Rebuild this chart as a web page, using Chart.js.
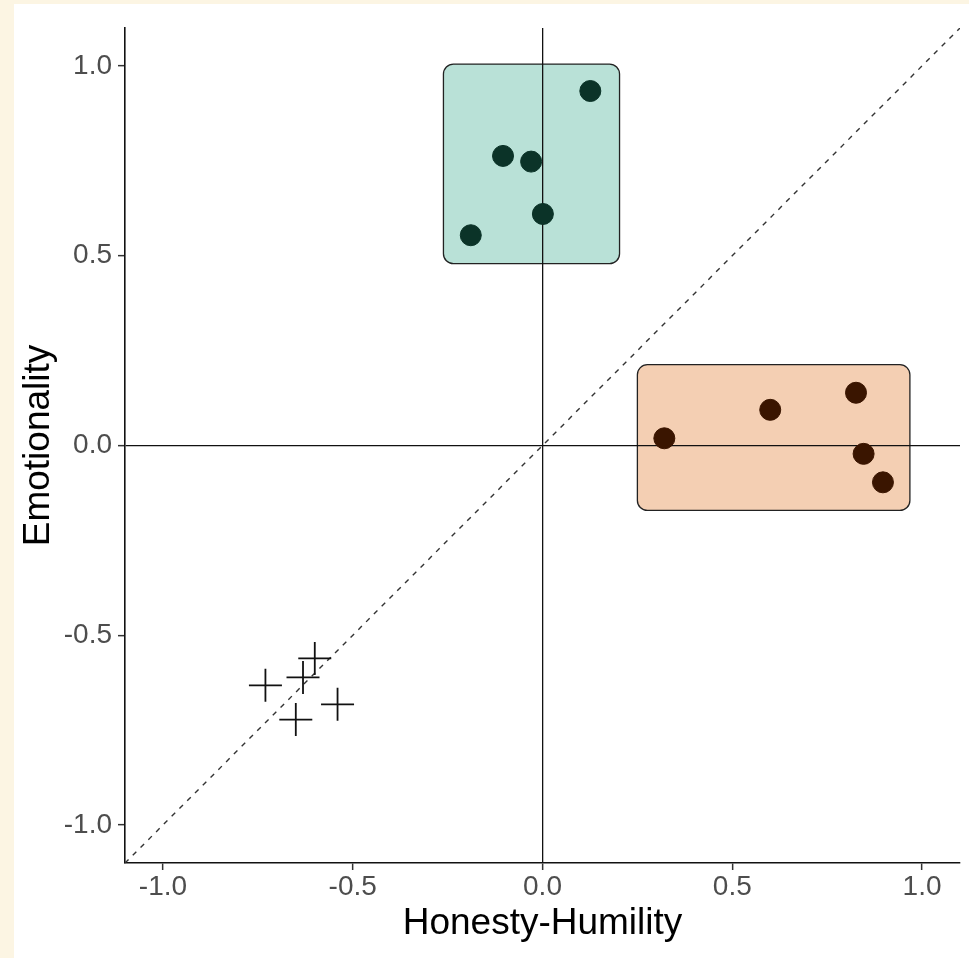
<!DOCTYPE html>
<html>
<head>
<meta charset="utf-8">
<script src="https://cdn.jsdelivr.net/npm/chart.js@4.4.1/dist/chart.umd.min.js"></script>
<style>
  body { margin: 0; background: #fcf5e3; }
  #wrap { position: absolute; left: 14px; top: 4px; width: 955px; height: 954px; background: #fff; }
</style>
</head>
<body>
<div id="wrap"><canvas id="myChart" width="955" height="954"></canvas></div>
<script>
// points
const tealX = [0.126, -0.104, -0.030, 0.001, -0.189];
const tealY = [0.934, 0.763, 0.748, 0.610, 0.554];
const orangeX = [0.321, 0.600, 0.826, 0.846, 0.897];
const orangeY = [0.019, 0.094, 0.139, -0.022, -0.097];
const crossX = [-0.730, -0.631, -0.600, -0.650, -0.540];
const crossY = [-0.632, -0.611, -0.561, -0.722, -0.682];

// highlight boxes [xmin, xmax, ymin, ymax]
const tealBox = [-0.261, 0.203, 0.479, 1.005];
const orangeBox = [0.250, 0.968, -0.171, 0.213];

const axisMin = -1.1;
const axisMax = 1.1;
const tickValues = [-1.0, -0.5, 0.0, 0.5, 1.0];

const toPoints = (xs, ys) => xs.map((x, i) => ({ x: x, y: ys[i] }));

const boxPlugin = {
  id: "boxes",
  beforeDraw(chart) {
    const { ctx, scales: { x, y } } = chart;
    const boxes = [
      { b: tealBox, fill: "#b9e1d7" },
      { b: orangeBox, fill: "#f4cfb3" },
    ];
    ctx.save();
    boxes.forEach(({ b, fill }) => {
      const x0 = x.getPixelForValue(b[0]);
      const x1 = x.getPixelForValue(b[1]);
      const y0 = y.getPixelForValue(b[3]);
      const y1 = y.getPixelForValue(b[2]);
      ctx.beginPath();
      ctx.roundRect(x0, y0, x1 - x0, y1 - y0, 10);
      ctx.fillStyle = fill;
      ctx.fill();
      ctx.lineWidth = 1.3;
      ctx.strokeStyle = "#222";
      ctx.stroke();
    });
    ctx.restore();
  },
};

const zeroLine = (c) => (c.tick && c.tick.value === 0 ? "#111" : "rgba(0,0,0,0)");

const axis = (title, isY) => ({
  type: "linear",
  min: axisMin,
  max: axisMax,
  afterBuildTicks: (s) => {
    s.ticks = tickValues.map((v) => ({ value: v }));
  },
  afterFit: (s) => {
    if (isY) {
      s.width = 111;
      s.paddingTop = 0;
      s.paddingBottom = 0;
    } else {
      s.height = 95;
      s.paddingLeft = 0;
      s.paddingRight = 0;
    }
  },
  border: { display: true, color: "#111", width: 1.6 },
  grid: {
    color: zeroLine,
    lineWidth: 1.3,
    drawTicks: true,
    tickLength: 7,
    tickColor: "#333",
    tickWidth: 1.5,
  },
  ticks: {
    color: "#4d4d4d",
    font: { family: "Liberation Sans", size: 28 },
    padding: isY ? 6 : 0,
    maxRotation: 0,
    autoSkip: false,
    callback: (v) => Number(v).toFixed(1),
  },
  title: {
    display: true,
    text: title,
    color: "#000",
    font: { family: "Liberation Sans", size: 37 },
    padding: isY ? { top: 3, bottom: 0 } : { top: 0, bottom: 12 },
  },
});

new Chart(document.getElementById("myChart"), {
  type: "scatter",
  data: {
    datasets: [
      {
        data: toPoints(tealX, tealY),
        backgroundColor: "#0b3328",
        borderColor: "#0b3328",
        pointRadius: 10.5,
        pointHoverRadius: 10.5,
      },
      {
        data: toPoints(orangeX, orangeY),
        backgroundColor: "#3a1500",
        borderColor: "#3a1500",
        pointRadius: 10.5,
        pointHoverRadius: 10.5,
      },
      {
        data: toPoints(crossX, crossY),
        pointStyle: "cross",
        borderColor: "#111",
        borderWidth: 1.8,
        pointRadius: 16.5,
        pointHoverRadius: 16.5,
      },
      {
        type: "line",
        data: [{ x: axisMin, y: axisMin }, { x: axisMax, y: axisMax }],
        borderColor: "#333",
        borderWidth: 1.4,
        borderDash: [5, 6],
        pointRadius: 0,
        fill: false,
      },
    ],
  },
  options: {
    responsive: false,
    animation: false,
    layout: { autoPadding: false, padding: { top: 24, right: 9, left: 0, bottom: 0 } },
    plugins: { legend: { display: false }, tooltip: { enabled: false } },
    scales: {
      x: axis("Honesty-Humility", false),
      y: axis("Emotionality", true),
    },
  },
  plugins: [boxPlugin],
});
</script>
</body>
</html>
